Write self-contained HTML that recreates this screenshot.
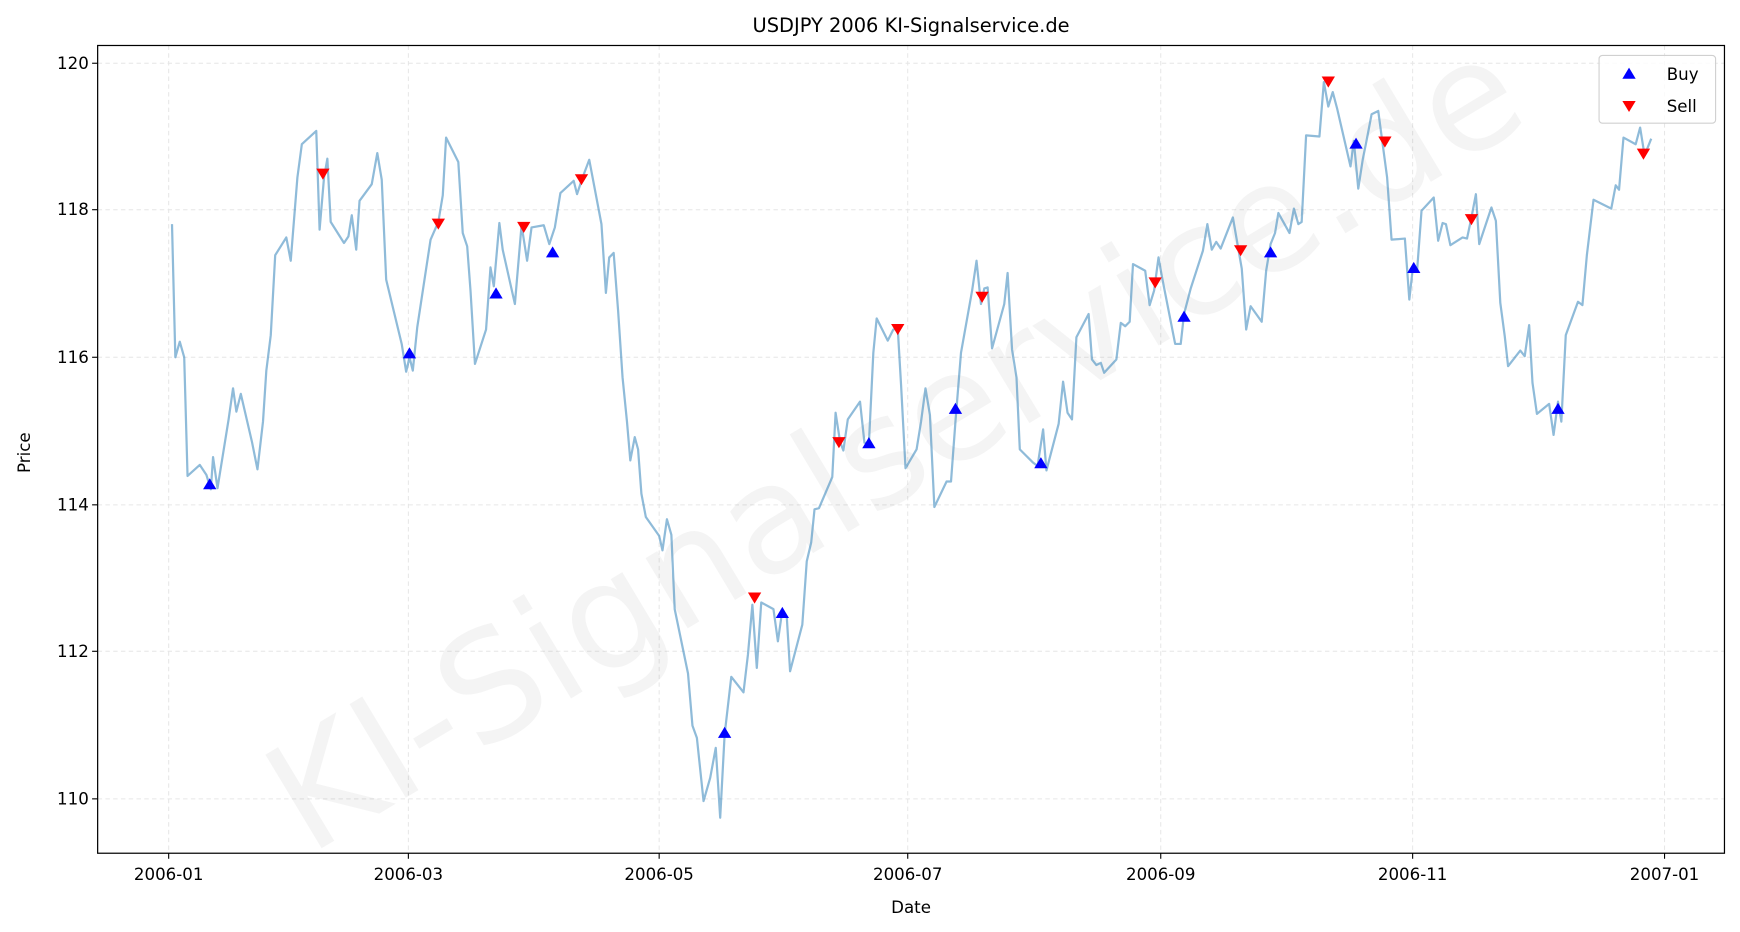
<!DOCTYPE html>
<html><head><meta charset="utf-8"><style>
html,body{margin:0;padding:0;background:#fff;}
svg{display:block;font-family:"DejaVu Sans","Liberation Sans",sans-serif;}
</style></head><body>
<svg width="1740" height="932" viewBox="0 0 1568 840" preserveAspectRatio="none">
<rect width="1568" height="840" fill="#fff"/>
<!-- grid -->
<g stroke="#e6e6e6" stroke-width="0.9" stroke-dasharray="4,3">
<line x1="88" x2="1554" y1="57" y2="57"/><line x1="88" x2="1554" y1="189" y2="189"/>
<line x1="88" x2="1554" y1="322" y2="322"/><line x1="88" x2="1554" y1="455" y2="455"/>
<line x1="88" x2="1554" y1="587" y2="587"/><line x1="88" x2="1554" y1="720" y2="720"/>
<line y1="41" y2="769" x1="152" x2="152"/><line y1="41" y2="769" x1="368" x2="368"/>
<line y1="41" y2="769" x1="594" x2="594"/><line y1="41" y2="769" x1="818" x2="818"/>
<line y1="41" y2="769" x1="1046" x2="1046"/><line y1="41" y2="769" x1="1273" x2="1273"/>
<line y1="41" y2="769" x1="1500" x2="1500"/>
</g>
<!-- watermark -->
<text x="830" y="440" font-size="135" fill="#000" fill-opacity="0.045" text-anchor="middle" transform="rotate(-31 830 440)">KI-Signalservice.de</text>
<!-- line -->
<polyline fill="none" stroke="#1f77b4" stroke-opacity="0.5" stroke-width="2" stroke-linejoin="round" points="155,202 158,322 162,308 166,322 169,429 180,419 186,428 190,441 192,412 196,440 206,378 210,350 213,371 217,355 227,398 232,423 237,380 240,334 244,302 248,230 258,214 262,235 268,160 272,130 285,118 288,207 292,160 295,143 298,200 310,219 314,213 317,194 321,225 324,181 335,166 340,138 344,162 348,252 362,310 366,335 369,322 372,334 376,295 388,216 395,200 399,176 402,124 413,146 417,210 421,222 424,262 428,328 438,297 442,241 445,258 450,201 453,225 464,274 470,203 475,235 479,205 490,203 495,220 500,205 505,174 517,163 520,175 525,160 531,144 542,202 546,264 549,232 553,228 557,280 561,340 565,380 568,415 572,394 575,405 578,445 582,466 594,483 597,496 601,468 605,482 608,549 620,607 624,654 628,665 634,722 640,701 645,674 649,737 653,662 659,610 670,624 674,590 678,545 682,602 686,543 697,549 701,578 705,550 709,556 712,605 723,563 727,506 731,489 734,459 738,458 750,430 753,372 757,398 760,406 764,378 775,362 779,399 783,400 787,318 790,287 800,307 805,297 809,296 812,347 816,422 826,405 830,380 834,350 838,374 842,457 853,434 857,434 861,380 866,318 876,262 880,235 884,274 887,260 890,259 894,314 905,274 908,246 912,315 916,340 919,405 931,417 935,420 940,387 943,424 954,382 958,344 962,372 966,378 970,304 981,283 984,324 988,329 992,327 995,336 1006,324 1010,291 1014,294 1018,290 1021,238 1032,244 1036,275 1040,262 1044,232 1047,249 1059,310 1064,310 1067,283 1073,260 1084,226 1088,202 1092,225 1096,218 1100,224 1111,196 1115,219 1119,242 1123,297 1127,276 1137,290 1141,244 1145,220 1149,210 1152,192 1162,210 1166,188 1170,202 1173,200 1177,122 1189,123 1193,74 1197,96 1201,83 1205,98 1217,150 1220,127 1224,170 1228,144 1232,124 1236,103 1242,100 1246,130 1250,160 1254,216 1266,215 1270,270 1273,243 1277,244 1281,190 1292,178 1296,217 1300,201 1303,202 1307,221 1318,214 1322,215 1326,196 1330,175 1333,220 1344,187 1348,199 1352,273 1356,303 1359,330 1370,316 1374,321 1378,293 1381,345 1385,373 1396,364 1400,392 1404,362 1407,380 1411,302 1422,272 1426,275 1430,230 1436,180 1452,188 1456,167 1459,171 1463,124 1474,130 1478,115 1482,140 1488,125"/>
<!-- buy -->
<g fill="#0000ff">
<path d="M189,431 l6,10 h-12z"/><path d="M369,313 l6,10 h-12z"/><path d="M447,259 l6,10 h-12z"/><path d="M498,222 l6,10 h-12z"/>
<path d="M653,655 l6,10 h-12z"/><path d="M705,547 l6,10 h-12z"/><path d="M783,394 l6,10 h-12z"/><path d="M861,363 l6,10 h-12z"/>
<path d="M938,412 l6,10 h-12z"/><path d="M1067,280 l6,10 h-12z"/><path d="M1145,222 l6,10 h-12z"/><path d="M1222,124 l6,10 h-12z"/>
<path d="M1274,236 l6,10 h-12z"/><path d="M1404,363 l6,10 h-12z"/>
</g>
<!-- sell -->
<g fill="#ff0000">
<path d="M291,162 l6,-10 h-12z"/><path d="M395,207 l6,-10 h-12z"/><path d="M472,210 l6,-10 h-12z"/><path d="M524,167 l6,-10 h-12z"/>
<path d="M680,544 l6,-10 h-12z"/><path d="M756,404 l6,-10 h-12z"/><path d="M809,302 l6,-10 h-12z"/><path d="M885,273 l6,-10 h-12z"/>
<path d="M1041,260 l6,-10 h-12z"/><path d="M1118,231 l6,-10 h-12z"/><path d="M1197,79 l6,-10 h-12z"/><path d="M1248,133 l6,-10 h-12z"/>
<path d="M1326,203 l6,-10 h-12z"/><path d="M1481,144 l6,-10 h-12z"/>
</g>
<!-- axes -->
<rect x="88" y="41" width="1466" height="728" fill="none" stroke="#000" stroke-width="1.1"/>
<g stroke="#000" stroke-width="1">
<line x1="83" x2="88" y1="57" y2="57"/><line x1="83" x2="88" y1="189" y2="189"/><line x1="83" x2="88" y1="322" y2="322"/>
<line x1="83" x2="88" y1="455" y2="455"/><line x1="83" x2="88" y1="587" y2="587"/><line x1="83" x2="88" y1="720" y2="720"/>
<line y1="769" y2="774" x1="152" x2="152"/><line y1="769" y2="774" x1="368" x2="368"/><line y1="769" y2="774" x1="594" x2="594"/>
<line y1="769" y2="774" x1="818" x2="818"/><line y1="769" y2="774" x1="1046" x2="1046"/><line y1="769" y2="774" x1="1273" x2="1273"/>
<line y1="769" y2="774" x1="1500" x2="1500"/>
</g>
<g font-size="15" fill="#000" text-anchor="end">
<text x="80" y="62">120</text><text x="80" y="194">118</text><text x="80" y="327">116</text>
<text x="80" y="460">114</text><text x="80" y="592">112</text><text x="80" y="725">110</text>
</g>
<g font-size="15" fill="#000" text-anchor="middle">
<text x="152" y="793">2006-01</text><text x="368" y="793">2006-03</text><text x="594" y="793">2006-05</text>
<text x="818" y="793">2006-07</text><text x="1046" y="793">2006-09</text><text x="1273" y="793">2006-11</text>
<text x="1500" y="793">2007-01</text>
<text x="821" y="823">Date</text>
<text x="821" y="29" font-size="17.5">USDJPY 2006 KI-Signalservice.de</text>
</g>
<text x="27" y="408" font-size="15" text-anchor="middle" transform="rotate(-90 27 408)">Price</text>
<!-- legend -->
<rect x="1441" y="50" width="105" height="61" rx="3" fill="#fff" fill-opacity="0.8" stroke="#d0d0d0"/>
<path d="M1468,61 l6,10 h-12z" fill="#0000ff"/>
<path d="M1468,101 l6,-10 h-12z" fill="#ff0000"/>
<text x="1502" y="72" font-size="15">Buy</text>
<text x="1502" y="101" font-size="15">Sell</text>
</svg>
</body></html>
